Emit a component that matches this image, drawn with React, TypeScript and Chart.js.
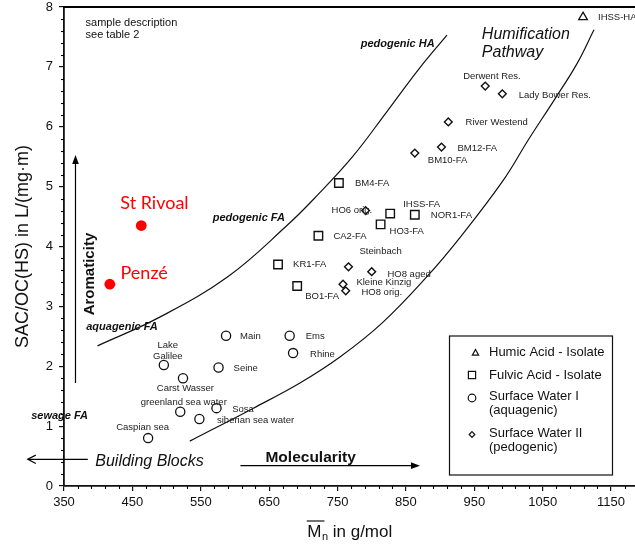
import React, { useEffect, useRef } from 'react';
import { Chart, registerables } from 'chart.js';
Chart.register(...registerables);

const FONT = '"Liberation Sans", Arial, Helvetica, sans-serif';

// ---- axes ----
const xTicks = [350, 450, 550, 650, 750, 850, 950, 1050, 1150];
const yTicks = [0, 1, 2, 3, 4, 5, 6, 7, 8];
const xMin = 350;
const xMax = 1185;
const yMin = 0;
const yMax = 8;

// ---- data ----
const humicNames = ['IHSS-HA'];
const humicX = [1109];
const humicY = [7.83];

const fulvicNames = ['BM4-FA', 'IHSS-FA', 'NOR1-FA', 'HO3-FA', 'CA2-FA', 'KR1-FA', 'BO1-FA'];
const fulvicX = [752, 827, 863, 813, 722, 663, 691];
const fulvicY = [5.06, 4.55, 4.53, 4.37, 4.18, 3.7, 3.34];

const sw1Names = ['Main', 'Ems', 'Rhine', 'Lake\nGalilee', 'Seine', 'Carst Wasser', 'greenland sea water', 'Sosa', 'siberian sea water', 'Caspian sea'];
const sw1X = [587, 680, 685, 496, 576, 524, 520, 573, 548, 473];
const sw1Y = [2.51, 2.51, 2.22, 2.02, 1.98, 1.8, 1.24, 1.3, 1.12, 0.8];

const sw2Names = ['Derwent Res.', 'Lady Bower Res.', 'River Westend', 'BM12-FA', 'BM10-FA', 'HO6 orig.', 'Steinbach', 'HO8 aged', 'Kleine Kinzig', 'HO8 orig.'];
const sw2X = [966, 991, 912, 902, 863, 791, 766, 800, 758, 762];
const sw2Y = [6.68, 6.55, 6.08, 5.66, 5.56, 4.6, 3.66, 3.58, 3.37, 3.26];

const siteNames = ['St Rivoal', 'Penzé'];
const siteX = [463, 417];
const siteY = [4.35, 3.37];

// boundary curves of the humification pathway
const upperCurveX = [399, 490, 590, 676, 720, 772, 822, 870, 910];
const upperCurveY = [2.34, 2.82, 3.5, 4.35, 4.85, 5.5, 6.25, 6.98, 7.53];
const lowerCurveX = [534, 627, 695, 753, 815, 881, 929, 992, 1030, 1067, 1100, 1125];
const lowerCurveY = [0.75, 1.3, 1.72, 2.15, 2.72, 3.5, 4.15, 5.1, 5.8, 6.45, 7.05, 7.62];

// ---- label layout (pixel offsets from the point) ----
type LL = { dx: number; dy: number; align: CanvasTextAlign };
const labelLayout: Record<string, LL> = {
  'IHSS-HA': { dx: 15, dy: 0, align: 'left' },
  'BM4-FA': { dx: 16, dy: 0.5, align: 'left' },
  'IHSS-FA': { dx: 13, dy: -9, align: 'left' },
  'NOR1-FA': { dx: 16, dy: 0.5, align: 'left' },
  'HO3-FA': { dx: 9, dy: 7.5, align: 'left' },
  'CA2-FA': { dx: 15, dy: 0.5, align: 'left' },
  'KR1-FA': { dx: 15, dy: 0, align: 'left' },
  'BO1-FA': { dx: 8, dy: 10, align: 'left' },
  'Main': { dx: 14, dy: 0.5, align: 'left' },
  'Ems': { dx: 16, dy: 1, align: 'left' },
  'Rhine': { dx: 17, dy: 1, align: 'left' },
  'Lake\nGalilee': { dx: 4, dy: -20, align: 'center' },
  'Seine': { dx: 15, dy: 1, align: 'left' },
  'Carst Wasser': { dx: 2.4, dy: 10, align: 'center' },
  'greenland sea water': { dx: 3.5, dy: -9, align: 'center' },
  'Sosa': { dx: 15.7, dy: 1, align: 'left' },
  'siberian sea water': { dx: 17.6, dy: 1, align: 'left' },
  'Caspian sea': { dx: -5.5, dy: -11, align: 'center' },
  'Derwent Res.': { dx: 6.7, dy: -9.5, align: 'center' },
  'Lady Bower Res.': { dx: 16.3, dy: 1.7, align: 'left' },
  'River Westend': { dx: 17.3, dy: 0.3, align: 'left' },
  'BM12-FA': { dx: 16, dy: 1.4, align: 'left' },
  'BM10-FA': { dx: 13, dy: 7.7, align: 'left' },
  'HO6 orig.': { dx: -34, dy: 0, align: 'left' },
  'Steinbach': { dx: 11, dy: -15.7, align: 'left' },
  'HO8 aged': { dx: 15.7, dy: 2.6, align: 'left' },
  'Kleine Kinzig': { dx: 13.4, dy: -1.7, align: 'left' },
  'HO8 orig.': { dx: 15.7, dy: 1.6, align: 'left' },
  'St Rivoal': { dx: -21, dy: -22.4, align: 'left' },
  'Penzé': { dx: 10.7, dy: -11, align: 'left' },
};

// ---- annotations (anchored in data units) ----
type Ann = { text: string; x: number; y: number; font: string; align: CanvasTextAlign; rotate?: boolean };
const annotations: Ann[] = [
  { text: 'sample description', x: 381.5, y: 7.73, font: `11px ${FONT}`, align: 'left' },
  { text: 'see table 2', x: 381.5, y: 7.53, font: `11px ${FONT}`, align: 'left' },
  { text: 'pedogenic HA', x: 892, y: 7.38, font: `italic bold 11px ${FONT}`, align: 'right' },
  { text: 'Humification', x: 961, y: 7.54, font: `italic 16px ${FONT}`, align: 'left' },
  { text: 'Pathway', x: 961, y: 7.24, font: `italic 16px ${FONT}`, align: 'left' },
  { text: 'pedogenic FA', x: 673, y: 4.47, font: `italic bold 11px ${FONT}`, align: 'right' },
  { text: 'aquagenic FA', x: 382.5, y: 2.66, font: `italic bold 11px ${FONT}`, align: 'left' },
  { text: 'sewage FA', x: 302, y: 1.17, font: `italic bold 11px ${FONT}`, align: 'left' },
  { text: 'Building Blocks', x: 395.7, y: 0.41, font: `italic 16px ${FONT}`, align: 'left' },
  { text: 'Molecularity', x: 644.6, y: 0.48, font: `bold 15.5px ${FONT}`, align: 'left' },
  { text: 'Aromaticity', x: 387.3, y: 3.54, font: `bold 15px ${FONT}`, align: 'center', rotate: true },
];

type Arrow = { x1: number; y1: number; x2: number; y2: number; head: 'filled' | 'open' };
const arrows: Arrow[] = [
  { x1: 366.8, y1: 1.72, x2: 366.8, y2: 5.53, head: 'filled' },
  { x1: 384.8, y1: 0.446, x2: 297, y2: 0.446, head: 'open' },
  { x1: 608, y1: 0.34, x2: 870.5, y2: 0.34, head: 'filled' },
];

const legendItems = [
  { style: 'triangle', lines: ['Humic Acid - Isolate'] },
  { style: 'rect', lines: ['Fulvic Acid - Isolate'] },
  { style: 'circle', lines: ['Surface Water I', '(aquagenic)'] },
  { style: 'rectRot', lines: ['Surface Water II', '(pedogenic)'] },
];

const pts = (xs: number[], ys: number[]) => xs.map((x, i) => ({ x, y: ys[i] }));

function drawMarker(ctx: CanvasRenderingContext2D, style: string, x: number, y: number, s: number) {
  ctx.beginPath();
  if (style === 'triangle') {
    ctx.moveTo(x, y - s);
    ctx.lineTo(x + s * 0.95, y + s * 0.7);
    ctx.lineTo(x - s * 0.95, y + s * 0.7);
    ctx.closePath();
  } else if (style === 'rect') {
    ctx.rect(x - s, y - s, 2 * s, 2 * s);
  } else if (style === 'circle') {
    ctx.arc(x, y, s, 0, Math.PI * 2);
  } else {
    ctx.moveTo(x, y - s);
    ctx.lineTo(x + s, y);
    ctx.lineTo(x, y + s);
    ctx.lineTo(x - s, y);
    ctx.closePath();
  }
  ctx.stroke();
}

const decorPlugin = {
  id: 'decor',
  afterDraw(chart: any) {
    const { ctx, chartArea: ca, scales } = chart;
    const xs = scales.x;
    const ys = scales.y;
    const X = (v: number) => xs.getPixelForValue(v);
    const Y = (v: number) => ys.getPixelForValue(v);
    ctx.save();
    ctx.strokeStyle = '#000';
    ctx.fillStyle = '#000';

    // top frame line
    ctx.lineWidth = 1.8;
    ctx.beginPath();
    ctx.moveTo(ca.left - 0.9, ca.top);
    ctx.lineTo(ca.right, ca.top);
    ctx.stroke();

    // minor ticks
    ctx.lineWidth = 1.1;
    for (let v = xMin; v <= xMax; v += 20) {
      if ((v - 350) % 100 === 0) continue;
      const px = Math.round(X(v)) + 0.5;
      ctx.beginPath();
      ctx.moveTo(px, ca.bottom);
      ctx.lineTo(px, ca.bottom + 3);
      ctx.stroke();
    }
    for (let k = 0; k <= 40; k++) {
      if (k % 5 === 0) continue;
      const py = Math.round(Y(k * 0.2)) + 0.5;
      ctx.beginPath();
      ctx.moveTo(ca.left - 3, py);
      ctx.lineTo(ca.left, py);
      ctx.stroke();
    }

    // arrows
    ctx.lineWidth = 1.2;
    for (const a of arrows) {
      const x1 = X(a.x1), y1 = Y(a.y1), x2 = X(a.x2), y2 = Y(a.y2);
      const ang = Math.atan2(y2 - y1, x2 - x1);
      const len = a.head === 'filled' ? 9 : 8;
      const hw = a.head === 'filled' ? 3.3 : 4.2;
      const bx = x2 - Math.cos(ang) * len, by = y2 - Math.sin(ang) * len;
      const nx = -Math.sin(ang), ny = Math.cos(ang);
      ctx.beginPath();
      ctx.moveTo(x1, y1);
      ctx.lineTo(a.head === 'filled' ? bx : x2, a.head === 'filled' ? by : y2);
      ctx.stroke();
      ctx.beginPath();
      if (a.head === 'filled') {
        ctx.moveTo(x2, y2);
        ctx.lineTo(bx + nx * hw, by + ny * hw);
        ctx.lineTo(bx - nx * hw, by - ny * hw);
        ctx.closePath();
        ctx.fill();
      } else {
        ctx.moveTo(bx + nx * hw, by + ny * hw);
        ctx.lineTo(x2, y2);
        ctx.lineTo(bx - nx * hw, by - ny * hw);
        ctx.stroke();
      }
    }

    // annotations
    ctx.fillStyle = '#111';
    ctx.textBaseline = 'middle';
    for (const a of annotations) {
      ctx.font = a.font;
      ctx.textAlign = a.align;
      if (a.rotate) {
        ctx.save();
        ctx.translate(X(a.x), Y(a.y));
        ctx.rotate(-Math.PI / 2);
        ctx.fillText(a.text, 0, 0);
        ctx.restore();
      } else {
        ctx.fillText(a.text, X(a.x), Y(a.y));
      }
    }

    // point labels
    const groups: [string[], number[], number[], string, string][] = [
      [humicNames, humicX, humicY, `9.5px ${FONT}`, '#222'],
      [fulvicNames, fulvicX, fulvicY, `9.5px ${FONT}`, '#222'],
      [sw1Names, sw1X, sw1Y, `9.5px ${FONT}`, '#222'],
      [sw2Names, sw2X, sw2Y, `9.5px ${FONT}`, '#222'],
      [siteNames, siteX, siteY, `18px Lato, "Open Sans", sans-serif`, '#ff0000'],
    ];
    for (const [names, gx, gy, font, color] of groups) {
      ctx.font = font;
      ctx.fillStyle = color;
      names.forEach((n, i) => {
        const l = labelLayout[n] || { dx: 12, dy: 0, align: 'left' as CanvasTextAlign };
        ctx.textAlign = l.align;
        const lines = n.split('\n');
        lines.forEach((t, j) => {
          ctx.fillText(t, X(gx[i]) + l.dx, Y(gy[i]) + l.dy + j * 11);
        });
      });
    }

    // x title: M-bar with subscript n
    const cx = (ca.left + ca.right) / 2;
    const base = ca.bottom + 51;
    ctx.fillStyle = '#111';
    ctx.textAlign = 'left';
    ctx.textBaseline = 'alphabetic';
    ctx.font = `17px ${FONT}`;
    const wM = ctx.measureText('M').width;
    const rest = ' in g/mol';
    const wR = ctx.measureText(rest).width;
    ctx.font = `11px ${FONT}`;
    const wn = ctx.measureText('n').width;
    const sx = cx - (wM + wn + wR) / 2;
    ctx.font = `17px ${FONT}`;
    ctx.fillText('M', sx, base);
    ctx.font = `11px ${FONT}`;
    ctx.fillText('n', sx + wM + 0.5, base + 3);
    ctx.font = `17px ${FONT}`;
    ctx.fillText(rest, sx + wM + wn + 0.5, base);
    ctx.lineWidth = 1.2;
    ctx.strokeStyle = '#111';
    ctx.beginPath();
    ctx.moveTo(sx - 0.5, base - 16);
    ctx.lineTo(sx + wM + wn * 0.5, base - 16);
    ctx.stroke();

    // legend box
    const bl = ca.right - 185.5, bt = ca.top + 329, br = ca.right - 22.5, bb = ca.bottom - 11;
    ctx.lineWidth = 1.2;
    ctx.strokeStyle = '#111';
    ctx.strokeRect(bl, bt, br - bl, bb - bt);
    const rowsY = [[352.5], [375], [396, 410.5], [433, 447.5]];
    const markY = [352.8, 375, 398, 434.5];
    const markS = [3.3, 3.6, 3.8, 2.8];
    const off = ca.top - 7;
    ctx.font = `13px ${FONT}`;
    ctx.fillStyle = '#111';
    ctx.textBaseline = 'middle';
    legendItems.forEach((it, i) => {
      ctx.lineWidth = 1.2;
      drawMarker(ctx, it.style, bl + (it.style === 'triangle' ? 26 : 22.5), markY[i] + off, markS[i]);
      it.lines.forEach((t, j) => {
        ctx.fillText(t, bl + 39.5, rowsY[i][j] + off);
      });
    });
    ctx.restore();
  },
};

export default function App() {
  const ref = useRef<HTMLCanvasElement | null>(null);
  useEffect(() => {
    if (!ref.current) return;
    Chart.defaults.font.family = FONT;
    const curve = (xs: number[], ys: number[]) => ({
      type: 'line' as const,
      data: pts(xs, ys),
      borderColor: '#111',
      borderWidth: 1.2,
      pointRadius: 0,
      fill: false,
      tension: 0.4,
      clip: false as any,
    });
    const marker = (xs: number[], ys: number[], style: string, r: number, bw: number) => ({
      type: 'scatter' as const,
      data: pts(xs, ys),
      pointStyle: style,
      pointRadius: r,
      borderWidth: bw,
      borderColor: '#111',
      backgroundColor: 'rgba(0,0,0,0)',
      clip: false as any,
    });
    const chart = new Chart(ref.current, {
      type: 'scatter',
      data: {
        datasets: [
          curve(upperCurveX, upperCurveY),
          curve(lowerCurveX, lowerCurveY),
          marker(humicX, humicY, 'triangle', 5, 1.3),
          marker(fulvicX, fulvicY, 'rect', 6, 1.4),
          marker(sw1X, sw1Y, 'circle', 4.6, 1.3),
          marker(sw2X, sw2Y, 'rectRot', 3.9, 1.4),
          {
            type: 'scatter',
            data: pts(siteX, siteY),
            pointStyle: 'circle',
            pointRadius: 5.4,
            borderWidth: 0,
            backgroundColor: '#ff0000',
            borderColor: '#ff0000',
          },
        ] as any,
      },
      options: {
        animation: false,
        responsive: true,
        maintainAspectRatio: false,
        layout: { autoPadding: false, padding: { top: 7, left: 0, right: 0, bottom: 0 } },
        plugins: { legend: { display: false }, tooltip: { enabled: false } },
        scales: {
          x: {
            type: 'linear',
            min: xMin,
            max: xMax,
            afterBuildTicks: (s: any) => {
              s.ticks = xTicks.map((v) => ({ value: v }));
            },
            afterFit: (s: any) => {
              s.height = 59;
              s.paddingLeft = 0;
              s.paddingRight = 0;
            },
            ticks: {
              font: { size: 13, lineHeight: 1 },
              color: '#111',
              padding: 5,
              autoSkip: false,
              maxRotation: 0,
              callback: (v: any) => String(v),
            },
            grid: { drawOnChartArea: false, drawTicks: true, tickLength: 5, color: '#111', lineWidth: 1.2 },
            border: { color: '#111', width: 1.8 },
          },
          y: {
            type: 'linear',
            min: yMin,
            max: yMax,
            afterBuildTicks: (s: any) => {
              s.ticks = yTicks.map((v) => ({ value: v }));
            },
            afterFit: (s: any) => {
              s.width = 64;
              s.paddingTop = 0;
              s.paddingBottom = 0;
            },
            ticks: { font: { size: 13, lineHeight: 1 }, color: '#111', padding: 6, callback: (v: any) => String(v) },
            grid: { drawOnChartArea: false, drawTicks: true, tickLength: 5, color: '#111', lineWidth: 1.2 },
            border: { color: '#111', width: 1.8 },
            title: {
              display: true,
              text: 'SAC/OC(HS) in L/(mg·m)',
              font: { size: 18 },
              color: '#111',
              padding: { top: 12, bottom: 0 },
            },
          },
        },
      },
      plugins: [decorPlugin],
    });
    return () => chart.destroy();
  }, []);
  return (
    <div style={{ position: 'fixed', left: 0, top: 0, width: 635, height: 545, background: '#fff' }}>
      <canvas ref={ref} />
    </div>
  );
}
